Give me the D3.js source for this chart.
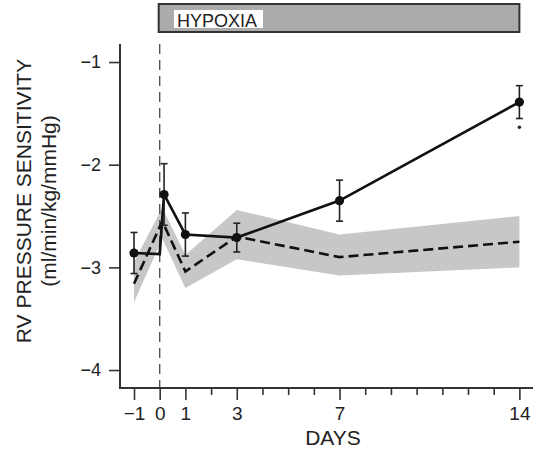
<!DOCTYPE html>
<html>
<head>
<meta charset="utf-8">
<script src="https://cdn.jsdelivr.net/npm/d3@7"></script>
<style>
  html, body { margin: 0; padding: 0; background: #fff; }
  svg { display: block; }
  text { font-family: Arial, "Liberation Sans", Helvetica, sans-serif; fill: #222; }
</style>
</head>
<body>
<svg id="chart" width="536" height="451"></svg>
<script>
// Hypoxia group: mean ± SE (day 0 is the onset corner, no measurement)
const hypDays = [-1, 0, 0.17, 1, 3, 7, 14];
const hypMean = [-2.86, -2.87, -2.29, -2.68, -2.71, -2.35, -1.39];
const hypSE   = [0.20, null, 0.30, 0.21, 0.14, 0.20, 0.16];

// Control group: mean (dashed) with shaded range
const ctrlDays  = [-1, 0.1, 1, 3, 7, 14];
const ctrlMean  = [-3.16, -2.55, -3.04, -2.70, -2.90, -2.75];
const ctrlUpper = [-2.95, -2.42, -2.88, -2.44, -2.68, -2.50];
const ctrlLower = [-3.34, -2.72, -3.20, -2.92, -3.08, -3.00];

// Axis ticks and labels
const xMajorTicks = [-1, 0, 1, 3, 7, 14];
const xMinorTicks = d3.range(-1, 15);
const yTicks = [-1, -2, -3, -4];
const hypoxiaSpan = [0, 14];
const sigDays = [14];
const sigValues = [-1.635];

const svg = d3.select("#chart");

const x = d3.scaleLinear().domain([-1.545, 14.53]).range([120, 533]);
const y = d3.scaleLinear().domain([-4.175, -0.834]).range([388, 45]);

const axisColor = "#333";

// Shaded control band
const ctrlPts = ctrlDays.map((d, i) => ({ d, m: ctrlMean[i], hi: ctrlUpper[i], lo: ctrlLower[i] }));
svg.append("path")
  .datum(ctrlPts)
  .attr("d", d3.area().x(p => x(p.d)).y0(p => y(p.lo)).y1(p => y(p.hi)))
  .attr("fill", "#c7c7c7");

// Onset of hypoxia
svg.append("line")
  .attr("x1", x(0)).attr("x2", x(0))
  .attr("y1", 44).attr("y2", 388)
  .attr("stroke", "#555").attr("stroke-width", 1.4)
  .attr("stroke-dasharray", "10,6");

// Control mean (dashed)
svg.append("path")
  .datum(ctrlPts)
  .attr("d", d3.line().x(p => x(p.d)).y(p => y(p.m)))
  .attr("fill", "none").attr("stroke", "#111")
  .attr("stroke-width", 2.6).attr("stroke-dasharray", "10,5");

// Hypoxia mean line
const hypPts = hypDays.map((d, i) => ({ d, m: hypMean[i], se: hypSE[i] }));
svg.append("path")
  .datum(hypPts)
  .attr("d", d3.line().x(p => x(p.d)).y(p => y(p.m)))
  .attr("fill", "none").attr("stroke", "#111").attr("stroke-width", 2.7);

// Error bars
const measured = hypPts.filter(p => p.se !== null);
const eb = svg.append("g").attr("stroke", "#222").attr("stroke-width", 1.6);
measured.forEach(p => {
  const cx = x(p.d);
  eb.append("line").attr("x1", cx).attr("x2", cx).attr("y1", y(p.m + p.se)).attr("y2", y(p.m - p.se));
  eb.append("line").attr("x1", cx - 3.5).attr("x2", cx + 3.5).attr("y1", y(p.m + p.se)).attr("y2", y(p.m + p.se));
  eb.append("line").attr("x1", cx - 3.5).attr("x2", cx + 3.5).attr("y1", y(p.m - p.se)).attr("y2", y(p.m - p.se));
});

// Markers
svg.append("g").selectAll("circle")
  .data(measured).join("circle")
  .attr("cx", p => x(p.d)).attr("cy", p => y(p.m))
  .attr("r", 4.6).attr("fill", "#111");

// Significance mark
svg.append("g").selectAll("circle")
  .data(sigDays).join("circle")
  .attr("cx", d => x(d)).attr("cy", (d, i) => y(sigValues[i]))
  .attr("r", 1.7).attr("fill", "#222");

// Y axis
const yAxis = svg.append("g")
  .attr("transform", `translate(${x.range()[0]},0)`)
  .call(d3.axisLeft(y).tickValues(yTicks).tickSize(11).tickPadding(8)
        .tickFormat(d => String(d).replace("-", "\u2212")));
yAxis.select(".domain").attr("stroke", axisColor).attr("stroke-width", 2)
  .attr("d", `M0,44V388`);
yAxis.selectAll(".tick line").attr("stroke", axisColor).attr("stroke-width", 1.6);
yAxis.selectAll(".tick text").attr("font-size", 18).attr("fill", "#222")
  .attr("font-family", "Arial, 'Liberation Sans', sans-serif");

// X axis: minor ticks every day, longer labelled ticks
const xAxisG = svg.append("g").attr("transform", `translate(0,${y.range()[0]})`);
xAxisG.call(d3.axisBottom(x).tickValues(xMinorTicks.filter(d => !xMajorTicks.includes(d)))
  .tickSize(7).tickFormat(""));
xAxisG.select(".domain").remove();
const xMajor = svg.append("g").attr("transform", `translate(0,${y.range()[0]})`)
  .call(d3.axisBottom(x).tickValues(xMajorTicks).tickSize(12).tickPadding(7)
        .tickFormat(d => String(d).replace("-", "\u2212")));
xMajor.select(".domain").attr("stroke", axisColor).attr("stroke-width", 2)
  .attr("d", `M${x.range()[0] - 1},0H${x.range()[1]}`);
svg.selectAll(".tick line").attr("stroke", axisColor).attr("stroke-width", 1.6);
xMajor.selectAll(".tick text").attr("font-size", 19).attr("fill", "#222")
  .attr("font-family", "Arial, 'Liberation Sans', sans-serif");

// Axis titles
svg.append("text")
  .attr("x", 333).attr("y", 445)
  .attr("text-anchor", "middle").attr("font-size", 21)
  .text("DAYS");

svg.append("text")
  .attr("transform", "translate(31,201) rotate(-90)")
  .attr("text-anchor", "middle").attr("font-size", 21)
  .text("RV PRESSURE SENSITIVITY");
svg.append("text")
  .attr("transform", "translate(56,201) rotate(-90)")
  .attr("text-anchor", "middle").attr("font-size", 21)
  .text("(ml/min/kg/mmHg)");

// Hypoxia exposure bar
const bar = svg.append("g");
bar.append("rect")
  .attr("x", x(hypoxiaSpan[0]) - 1).attr("y", 4)
  .attr("width", x(hypoxiaSpan[1]) - x(hypoxiaSpan[0]) + 1).attr("height", 28)
  .attr("fill", "#ababab").attr("stroke", "#333").attr("stroke-width", 2);
bar.append("rect")
  .attr("x", 174).attr("y", 10).attr("width", 89).attr("height", 18)
  .attr("fill", "#fff");
bar.append("text")
  .attr("x", 177).attr("y", 27)
  .attr("font-size", 18)
  .text("HYPOXIA");
</script>
</body>
</html>
